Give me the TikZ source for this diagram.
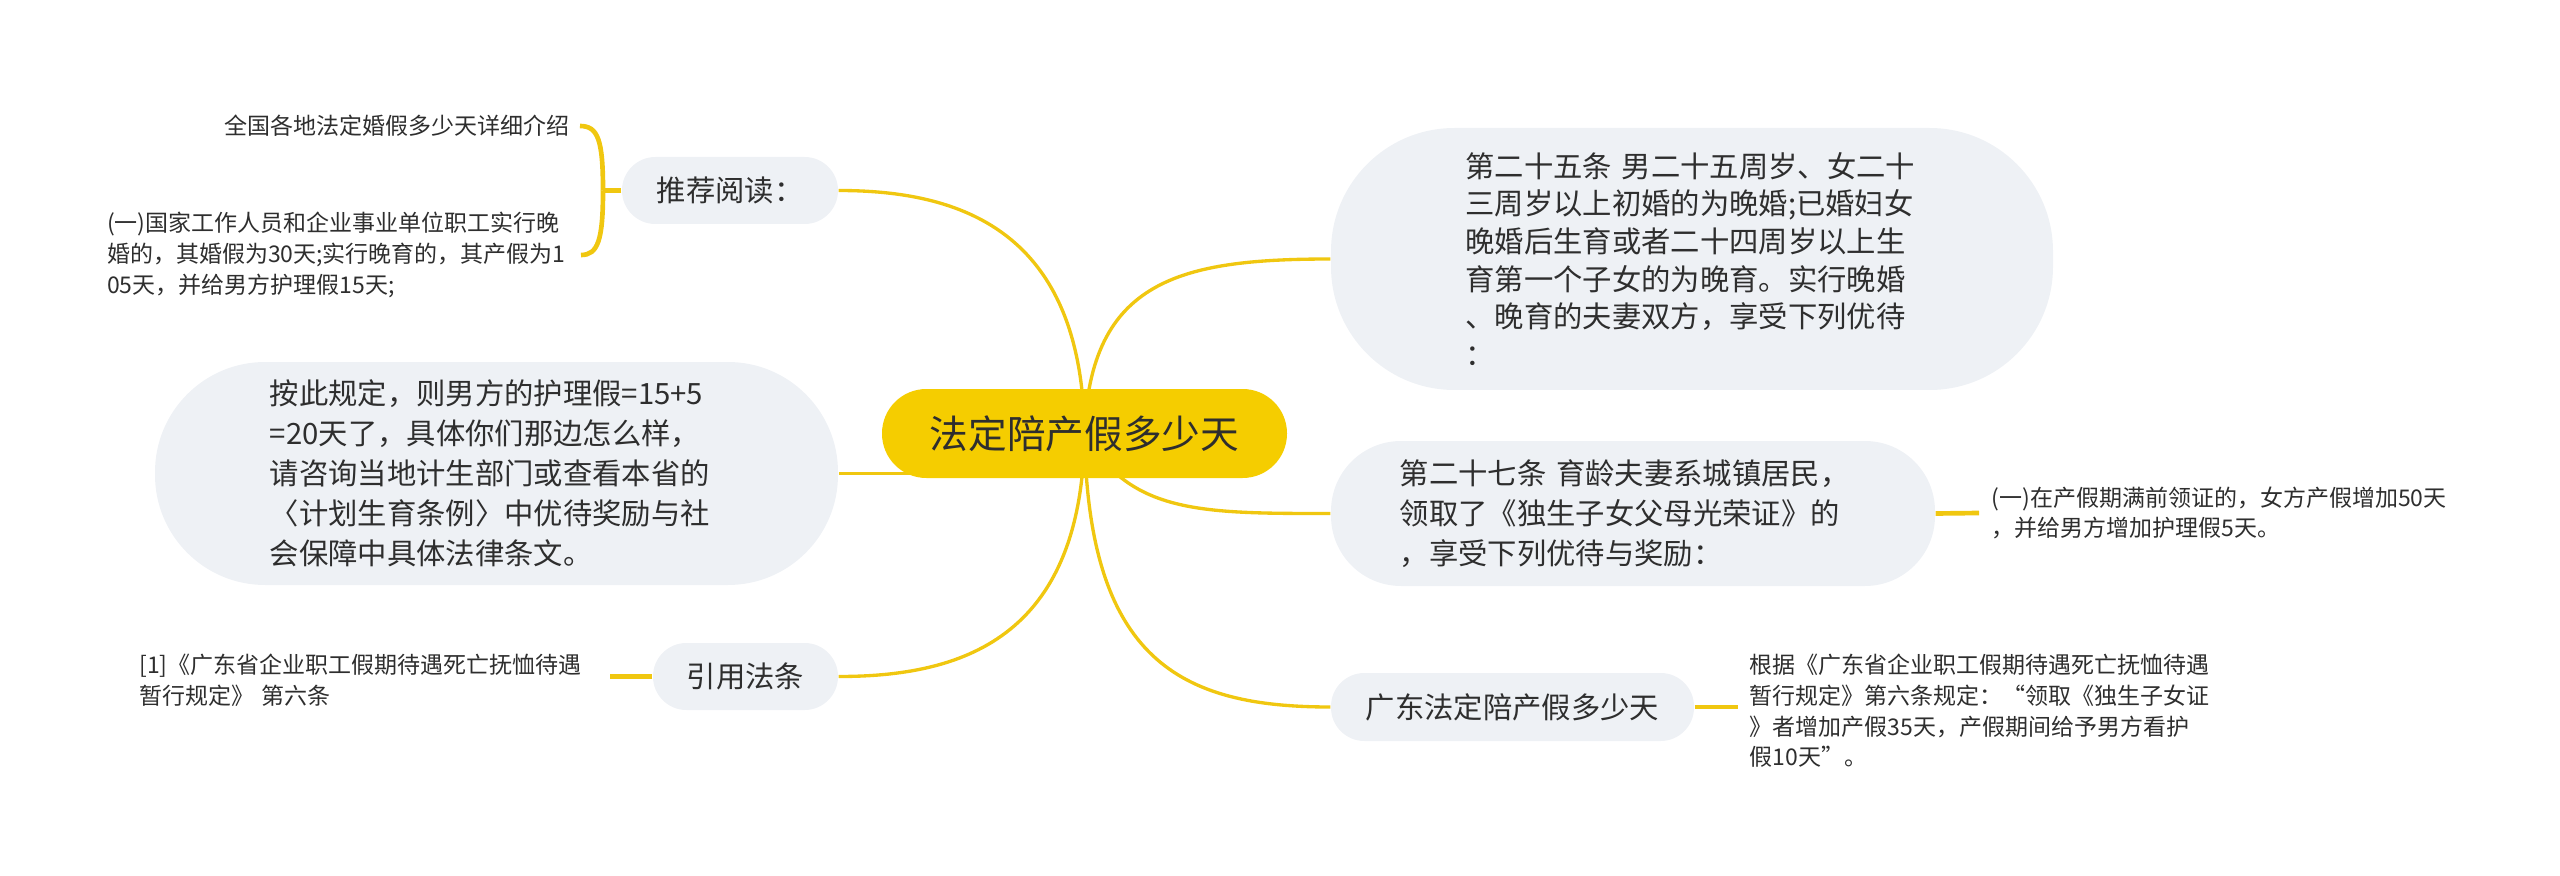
\documentclass[tikz,border=0pt]{standalone}
\usepackage{fontspec}
\setmainfont{Noto Sans CJK SC}
\usetikzlibrary{backgrounds,calc}
\definecolor{cyel}{HTML}{F5CD00}
\definecolor{cline}{HTML}{F0C710}
\definecolor{cbox}{HTML}{EEF1F5}
\definecolor{ctext}{HTML}{2E2E2E}
\tikzset{
  root/.style={fill=cyel, rounded corners=13.3pt, minimum width=121.5pt, minimum height=26.7pt,
    inner sep=0pt, text=ctext, font=\fontsize{11.6}{14}\selectfont},
  topic/.style={fill=cbox, inner sep=0pt, text=ctext, font=\fontsize{8.8}{11.3}\selectfont},
  leaf/.style={inner ysep=0pt, text=ctext, font=\fontsize{6.9}{9.2}\selectfont, align=left},
  branch/.style={draw=cline, line width=1pt},
  twig/.style={draw=cline, line width=1.4pt},
}
\begin{document}
\begin{tikzpicture}[x=0.3pt,y=-0.3pt]
\useasboundingbox (0,0) rectangle (2560,876);

% central
\node[root] (c) at (1084.5,433.5) {法定陪产假多少天};

% left topics
\node[topic, rounded corners=10pt, minimum width=64.8pt, minimum height=20.1pt] (tj) at (730,190.5) {推荐阅读：};
\node[topic, rounded corners=33pt, minimum width=204.9pt, minimum height=66.9pt,
      text width=136pt, align=left, font=\fontsize{8.8}{12}\selectfont] (lb) at (496.5,473.5)
  {按此规定，则男方的护理假=15+5\\=20天了，具体你们那边怎么样，\\请咨询当地计生部门或查看本省的\\〈计划生育条例〉中优待奖励与社\\会保障中具体法律条文。};
\node[topic, rounded corners=10pt, minimum width=55.5pt, minimum height=20.1pt] (yy) at (745.5,676.5) {引用法条};

% right topics
\node[topic, rounded corners=37pt, minimum width=216.6pt, minimum height=78.6pt,
      text width=136pt, align=left] (n25) at (1692,259)
  {第二十五条~男二十五周岁、女二十\\三周岁以上初婚的为晚婚;已婚妇女\\晚婚后生育或者二十四周岁以上生\\育第一个子女的为晚育。实行晚婚\\、晚育的夫妻双方，享受下列优待\\：};
\node[topic, rounded corners=21pt, minimum width=181.2pt, minimum height=43.5pt,
      text width=140pt, align=left, font=\fontsize{8.8}{12}\selectfont] (n27) at (1633,513.5)
  {第二十七条~育龄夫妻系城镇居民，\\领取了《独生子女父母光荣证》的\\，享受下列优待与奖励：};
\node[topic, rounded corners=10pt, minimum width=108.9pt, minimum height=20.4pt] (gd) at (1512.5,707) {广东法定陪产假多少天};

% leaves
\node[leaf, anchor=east, inner xsep=3pt] (l1) at (580,126) {全国各地法定婚假多少天详细介绍};
\node[leaf, anchor=east, inner xsep=3pt, text width=139pt] (l2) at (581,255)
  {(一)国家工作人员和企业事业单位职工实行晚\\婚的，其婚假为30天;实行晚育的，其产假为1\\05天，并给男方护理假15天;};
\node[leaf, anchor=east, inner xsep=9pt, text width=132pt] (l3) at (610,680.5)
  {[1]《广东省企业职工假期待遇死亡抚恤待遇\\暂行规定》 第六条};
\node[leaf, anchor=west, inner xsep=3.6pt, text width=140pt] (l4) at (1979,513)
  {(一)在产假期满前领证的，女方产假增加50天\\，并给男方增加护理假5天。};
\node[leaf, anchor=west, inner xsep=3.3pt, text width=142pt] (l5) at (1738,711)
  {根据《广东省企业职工假期待遇死亡抚恤待遇\\暂行规定》第六条规定：“领取《独生子女证\\》者增加产假35天，产假期间给予男方看护\\假10天”。};

\coordinate (tjb) at (603,190.5);

\begin{scope}[on background layer]
  \draw[branch] (c.center) .. controls (1082,230) and (960,190.5) .. (tj.east);
  \draw[branch] (c.center) .. controls (1090,280) and (1180,259) .. (n25.west);
  \draw[branch] (c.center |- lb.east) -- (lb.east);
  \draw[branch] (c.center) .. controls (1082,640) and (960,676.5) .. (yy.east);
  \draw[branch] (c.center) .. controls (1130,513.5) and (1200,513.5) .. (n27.west);
  \draw[branch] (c.center) .. controls (1088,660) and (1180,707) .. (gd.west);

  \draw[twig] (tj.west) -- (tjb);
  \draw[twig] (tjb) .. controls (603,140) and (598,126) .. (l1.east);
  \draw[twig] (tjb) .. controls (603,240) and (598,255) .. (l2.east);
  \draw[twig] (yy.west) -- (yy.west -| l3.east);
  \draw[twig] (n27.east) -- (l4.west);
  \draw[twig] (gd.east) -- (gd.east -| l5.west);
\end{scope}
\end{tikzpicture}
\end{document}
